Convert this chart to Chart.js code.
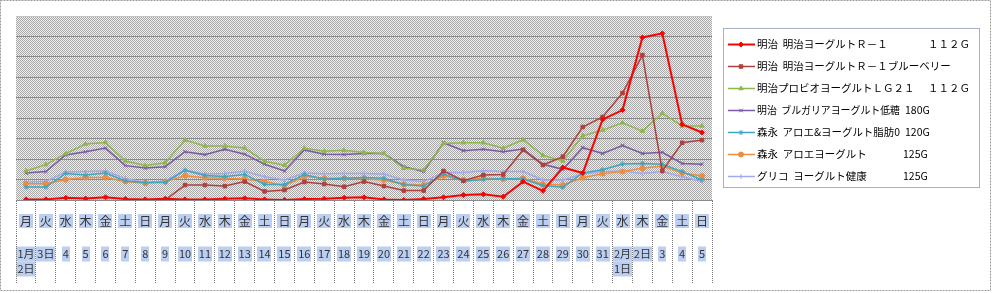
<!DOCTYPE html>
<html>
<head>
<meta charset="utf-8">
<script src="https://cdn.jsdelivr.net/npm/chart.js@4/dist/chart.umd.min.js"></script>
<style>
html, body { margin: 0; padding: 0; background: #fff; }
</style>
</head>
<body>
<canvas id="chart" width="992" height="293"></canvas>
<script>
const weekdays = ['月','火','水','木','金','土','日','月','火','水','木','金','土','日','月','火','水','木','金','土','日',
    '月','火','水','木','金','土','日','月','火','水','木','金','土','日'];
const dates = [['1月','2日'],'3日','4','5','6','7','8','9','10','11','12','13','14','15','16','17','18','19','20',
    '21','22','23','24','25','26','27','28','29','30','31',['2月','1日'],'2日','3','4','5'];

const seriesNames = ['明治  明治ヨーグルトＲ－１', '明治  明治ヨーグルトＲ－１ブルーベリー', '明治プロビオヨーグルトＬＧ２１',
    '明治  ブルガリアヨーグルト低糖', '森永  アロエ&ヨーグルト脂肪0', '森永  アロエヨーグルト', 'グリコ  ヨーグルト健康'];
const seriesSizes = ['１１２Ｇ', '', '１１２Ｇ', '180G', '120G', '125G', '125G'];

const r1 = [0.3,0.3,1.1,0.7,1.3,0.5,0.3,0.6,0.3,0.3,0.6,0.8,0.3,0,0.5,0.6,1.1,1.3,0.3,0,
    0.5,1.3,2.4,2.8,1.6,9.0,4.5,15.9,13.2,39.4,44.0,79.5,81.5,37.0,33.0];
const r1Blueberry = [null,null,null,null,null,null,null,0,7.3,7.3,6.8,9.0,4.2,4.9,8.8,7.8,6.5,9.0,6.8,4.6,
    4.6,14.2,9.4,12.2,12.5,24.5,17.1,21.2,35.7,40.6,52.3,70.9,14.2,28.0,29.3];
const lg21 = [14.2,17.3,22.7,27.4,28.1,19.1,16.9,18.2,29.3,26.4,26.4,25.4,18.9,17.0,25.3,23.8,24.3,23.2,22.8,15.5,
    14.7,27.6,28.0,28.0,25.3,29.5,21.8,19.1,31.4,34.2,37.8,33.7,42.4,36.2,36.2];
const bulgaria = [13.2,13.9,22.0,23.6,25.4,16.8,15.6,16.3,23.6,22.2,24.8,22.4,17.5,14.2,24.5,22.4,22.2,22.8,22.8,16.3,
    13.9,28.0,24.1,24.8,23.6,24.9,17.5,15.0,25.6,22.8,26.6,22.8,23.3,17.9,17.5];
const aloeFat0 = [6.3,6.3,13.0,12.2,13.2,9.3,8.6,8.6,14.5,12.0,11.5,12.5,7.6,7.6,12.5,10.1,10.6,11.0,10.6,7.5,
    6.8,12.7,9.2,10.0,10.5,10.3,7.1,6.2,13.2,14.8,17.6,17.8,17.5,13.9,9.8];
const aloe = [8.0,8.0,10.0,11.0,11.0,9.1,8.2,9.0,11.9,10.9,10.6,10.3,9.0,7.0,11.6,10.6,10.6,10.4,9.8,7.7,
    7.3,11.7,9.8,10.6,10.3,10.6,7.7,7.3,10.9,12.9,13.9,15.5,16.6,13.2,11.7];
const glico = [8.8,9.0,13.7,13.9,14.2,10.5,8.6,9.3,14.7,12.7,13.0,14.0,11.4,9.8,13.2,12.9,13.0,13.0,12.7,9.8,
    9.0,13.5,13.4,14.3,13.9,13.9,9.8,9.8,12.7,13.9,14.2,13.0,13.9,11.4,9.0];

const FONT = '"Noto Sans CJK JP", "Noto Sans", sans-serif';
const HILITE = '#bccff0';

const line = (i, data, color, pointStyle, width) => ({
    label: seriesNames[i] + ' ' + seriesSizes[i],
    data: data,
    borderColor: color,
    backgroundColor: color,
    pointBackgroundColor: color,
    pointBorderColor: color,
    borderWidth: width,
    pointStyle: pointStyle,
    pointRadius: 2.5,
    pointBorderWidth: 1,
    tension: 0,
    spanGaps: false
});

// blue highlight behind every line of every tick label
const hiliteTicks = (ctx, scale, firstY, lh, size) => {
    ctx.font = size + 'px ' + FONT;
    ctx.fillStyle = HILITE;
    scale.ticks.forEach((t, i) => {
        const x = scale.getPixelForTick(i);
        [].concat(t.label).forEach((s, j) => {
            const w = ctx.measureText(s).width;
            ctx.fillRect(Math.round(x - w / 2 - 1), firstY + j * lh - lh / 2, Math.round(w + 2), lh);
        });
    });
};

// gray dotted plot background, outer border, label highlights
const background = {
    id: 'background',
    beforeDraw(chart) {
        const ctx = chart.ctx;
        const a = chart.chartArea;
        ctx.save();
        ctx.fillStyle = '#fff';
        ctx.fillRect(0, 0, chart.width, chart.height);
        const p = document.createElement('canvas');
        p.width = 2; p.height = 2;
        const pc = p.getContext('2d');
        pc.fillStyle = '#eeeeee'; pc.fillRect(0, 0, 2, 2);
        pc.fillStyle = '#a9a9a9'; pc.fillRect(0, 0, 1, 1); pc.fillRect(1, 1, 1, 1);
        ctx.fillStyle = ctx.createPattern(p, 'repeat');
        ctx.fillRect(a.left, a.top, a.right - a.left, a.bottom - a.top);
        ctx.strokeStyle = '#9a9a9a';
        ctx.setLineDash([2, 1]);
        ctx.strokeRect(0.5, 0.5, 990, 290);
        ctx.setLineDash([]);
        hiliteTicks(ctx, chart.scales.x, chart.scales.x.top + 21, 14, 12);
        hiliteTicks(ctx, chart.scales.x2, chart.scales.x2.top + 18, 15, 11);
        ctx.restore();
    }
};

const legendBox = {
    id: 'legendBox',
    afterDraw(chart) {
        const ctx = chart.ctx;
        const sizeX = [928, 0, 928, 905, 905, 903, 903];
        ctx.save();
        ctx.fillStyle = '#fff';
        ctx.fillRect(723, 28, 256, 159);
        ctx.strokeStyle = '#a4b2cc';
        ctx.lineWidth = 1;
        ctx.strokeRect(723.5, 28.5, 256, 159);
        chart.data.datasets.forEach((ds, i) => {
            const y = 44 + i * 22;
            ctx.strokeStyle = ds.borderColor;
            ctx.lineWidth = ds.borderWidth;
            ctx.beginPath();
            ctx.moveTo(728, y + 0.5);
            ctx.lineTo(755, y + 0.5);
            ctx.stroke();
            ctx.fillStyle = ds.borderColor;
            ctx.lineWidth = 1;
            Chart.helpers.drawPoint(ctx, {pointStyle: ds.pointStyle, radius: 2.5, rotation: 0, borderWidth: 1}, 741, y + 0.5);
            ctx.fillStyle = '#000';
            ctx.font = '10.5px ' + FONT;
            ctx.textBaseline = 'middle';
            const maxW = seriesSizes[i] ? sizeX[i] - 762 : 215;
            ctx.fillText(seriesNames[i], 757, y, maxW);
            if (seriesSizes[i]) ctx.fillText(seriesSizes[i], sizeX[i], y);
        });
        ctx.restore();
    }
};

new Chart(document.getElementById('chart'), {
    type: 'line',
    data: {
        labels: weekdays,
        datasets: [
            line(0, r1, '#ff0000', 'rectRot', 2),
            line(1, r1Blueberry, '#b0403e', 'rect', 1.5),
            line(2, lg21, '#8fb84c', 'triangle', 1.5),
            line(3, bulgaria, '#7b5aa3', 'crossRot', 1.5),
            line(4, aloeFat0, '#3fa6c0', 'star', 1.5),
            line(5, aloe, '#f28c3c', 'circle', 1.5),
            line(6, glico, '#a0a8ee', 'cross', 1.5)
        ]
    },
    options: {
        responsive: false,
        devicePixelRatio: 1,
        animation: false,
        layout: { padding: { left: 16, right: 280, top: 16, bottom: 9 } },
        plugins: { legend: { display: false }, tooltip: { enabled: false } },
        scales: {
            y: {
                min: 0,
                max: 90,
                ticks: { stepSize: 10, display: false },
                border: { display: false },
                grid: { drawTicks: false, color: (c) => c.tick.value === 90 ? '#c4c4c4' : '#8a8a8a' }
            },
            x: {
                type: 'category',
                labels: weekdays,
                offset: true,
                weight: 0,
                border: { display: true, color: '#8a8a8a' },
                grid: { drawOnChartArea: false, offset: true, tickLength: 36, tickColor: '#7a7a7a', tickBorderDash: [1, 1] },
                ticks: {
                    autoSkip: false, maxRotation: 0, padding: -22, color: '#333',
                    font: { family: FONT, size: 12, lineHeight: '14px' }
                },
                afterFit: (s) => { s.height = 36; }
            },
            x2: {
                type: 'category',
                labels: dates,
                offset: true,
                position: 'bottom',
                weight: 1,
                border: { display: false },
                grid: { drawOnChartArea: false, offset: true, tickLength: 48, tickColor: '#7a7a7a', tickBorderDash: [1, 1] },
                ticks: {
                    autoSkip: false, maxRotation: 0, padding: -37.5, color: '#333',
                    font: { family: FONT, size: 11, lineHeight: '15px' }
                },
                afterFit: (s) => { s.height = 48; }
            }
        }
    },
    plugins: [background, legendBox]
});
</script>
</body>
</html>
